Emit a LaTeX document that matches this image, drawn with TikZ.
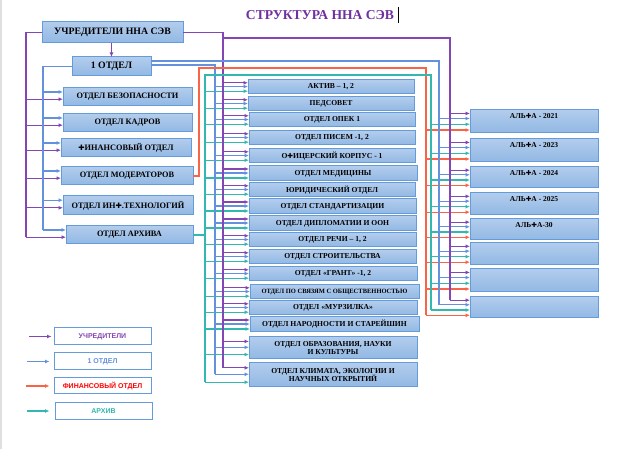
\documentclass[tikz,border=0pt]{standalone}
\usepackage{fontspec}
\setmainfont{Liberation Serif}
\newfontfamily\dv[Scale=0.9]{DejaVu Sans}
\newfontfamily\lsans{Liberation Sans}
\usetikzlibrary{calc,arrows.meta}
\definecolor{pur}{RGB}{132,70,180}
\definecolor{blu}{RGB}{100,145,222}
\definecolor{rdd}{RGB}{250,100,70}
\definecolor{tea}{RGB}{50,184,174}
\definecolor{tpur}{RGB}{112,48,160}
\definecolor{bbord}{RGB}{100,155,218}
\definecolor{btop}{RGB}{178,204,236}
\definecolor{bbot}{RGB}{145,184,228}
\newcommand\Fx{{\dv ✚}}
\newcommand\bx[7]{\node[#1,minimum width={(#5-#3)*1pt},minimum height={(#6-#4)*1pt}] (#2) at ({(#3+#5)/2},{(#4+#6)/2}) {#7};}
\newcommand\feed[5]{\path ($(#3.north west)!#4!(#3.south west)$) coordinate (#5);
  \draw[#1,-{Latex[length=4.5pt,width=4pt]}] (#2 |- #5) -- (#5);}
\tikzset{
  box/.style={draw=bbord,line width=1pt,top color=btop,bottom color=bbot,inner sep=1pt,outer sep=0pt,text=black,align=center},
  lbox/.style={box,font=\bfseries\fontsize{8.3}{9}\selectfont},
  mbox/.style={box,font=\bfseries\fontsize{7.6}{8.8}\selectfont},
  rbox/.style={box},
  rlab/.style={anchor=north,inner sep=3pt,font=\bfseries\fontsize{7.5}{8}\selectfont},
  legbox/.style={draw=bbord,line width=1pt,fill=white,inner sep=1pt,font=\lsans\bfseries\fontsize{7}{8}\selectfont},
  lnk/.style={line width=1.1pt},
  pur/.style={lnk,draw=pur,color=pur},
  blu/.style={lnk,draw=blu,color=blu},
  rdd/.style={lnk,draw=rdd,color=rdd},
  tea/.style={lnk,draw=tea,color=tea},
  tip/.style={-{Latex[length=4.5pt,width=4pt]}}
}
\begin{document}
\begin{tikzpicture}[x=1pt,y=-1pt]
\useasboundingbox[fill=white] (0,0) rectangle (638,449);
\draw[gray!25,line width=1.5pt] (1,0) -- (1,449);
% title
\node[font=\bfseries\fontsize{13.6}{15}\selectfont,text=tpur] (title) at (320,15) {СТРУКТУРА ННА СЭВ};
\draw[black,line width=0.6pt] (title.east) ++(1,-8) coordinate (c1) -- ++(0,16) coordinate (c2);
% trunk coordinates
\coordinate (xPL) at (26,0);
\coordinate (xBL) at (43,0);
\coordinate (xRL) at (199,0);
\coordinate (xTM) at (205,0);
\coordinate (xBM) at (215,0);
\coordinate (xPM) at (223,0);
\coordinate (xRR) at (426,0);
\coordinate (xTR) at (431,0);
\coordinate (xBR) at (439,0);
\coordinate (xPR) at (450,0);
\coordinate (yP2) at (0,38);
\coordinate (yB1) at (0,61);
\coordinate (yB2) at (0,65);
\coordinate (yR) at (0,68);
\coordinate (yT) at (0,75);
% left column
\bx{lbox,font=\bfseries\fontsize{9.8}{11}\selectfont}{uchr}{42}{22}{183}{43}{УЧРЕДИТЕЛИ ННА СЭВ}
\bx{lbox,font=\bfseries\fontsize{9.8}{11}\selectfont}{otd1}{72}{57}{151}{76}{1 ОТДЕЛ}
\bx{lbox}{bez}{63}{88}{192}{106}{ОТДЕЛ БЕЗОПАСНОСТИ}
\bx{lbox}{kadr}{63}{114}{192}{132}{ОТДЕЛ КАДРОВ}
\bx{lbox}{fin}{61}{139}{191}{157}{\Fx ИНАНСОВЫЙ ОТДЕЛ}
\bx{lbox}{mod}{61}{167}{193}{185}{ОТДЕЛ МОДЕРАТОРОВ}
\bx{lbox}{inf}{63}{196}{193}{215}{ОТДЕЛ ИН\Fx.ТЕХНОЛОГИЙ}
\bx{lbox}{arh}{66}{226}{193}{244}{ОТДЕЛ АРХИВА}
% middle column
\bx{mbox}{m1}{248}{80}{414}{94}{АКТИВ – 1, 2}
\bx{mbox}{m2}{248}{97}{414}{111}{ПЕДСОВЕТ}
\bx{mbox}{m3}{249}{113}{415}{127}{ОТДЕЛ ОПЕК 1}
\bx{mbox}{m4}{249}{131}{415}{145}{ОТДЕЛ ПИСЕМ -1, 2}
\bx{mbox}{m5}{249}{149}{415}{163}{О\Fx ИЦЕРСКИЙ КОРПУС - 1}
\bx{mbox}{m6}{249}{166}{417}{181}{ОТДЕЛ МЕДИЦИНЫ}
\bx{mbox}{m7}{249}{183}{415}{197}{ЮРИДИЧЕСКИЙ ОТДЕЛ}
\bx{mbox}{m8}{249}{199}{416}{214}{ОТДЕЛ СТАНДАРТИЗАЦИИ}
\bx{mbox}{m9}{249}{216}{416}{231}{ОТДЕЛ ДИПЛОМАТИИ И ООН}
\bx{mbox}{m10}{249}{233}{416}{247}{ОТДЕЛ РЕЧИ – 1, 2}
\bx{mbox}{m11}{249}{250}{416}{264}{ОТДЕЛ СТРОИТЕЛЬСТВА}
\bx{mbox}{m12}{249}{267}{417}{281}{ОТДЕЛ «ГРАНТ» -1, 2}
\bx{mbox,font=\bfseries\fontsize{6.5}{7}\selectfont}{m13}{250}{285}{419}{299}{ОТДЕЛ ПО СВЯЗЯМ С ОБЩЕСТВЕННОСТЬЮ}
\bx{mbox}{m14}{249}{301}{417}{315}{ОТДЕЛ «МУРЗИЛКА»}
\bx{mbox}{m15}{250}{317}{419}{332}{ОТДЕЛ НАРОДНОСТИ И СТАРЕЙШИН}
\bx{mbox}{m16}{249}{337}{417}{359}{ОТДЕЛ ОБРАЗОВАНИЯ, НАУКИ\\И КУЛЬТУРЫ}
\bx{mbox}{m17}{249}{363}{417}{387}{ОТДЕЛ КЛИМАТА, ЭКОЛОГИИ И\\НАУЧНЫХ ОТКРЫТИЙ}
% right column
\bx{rbox,label={[rlab]north:АЛЬ\Fx А - 2021}}{r1}{470}{110}{598}{133}{}
\bx{rbox,label={[rlab]north:АЛЬ\Fx А - 2023}}{r2}{470}{139}{598}{162}{}
\bx{rbox,label={[rlab]north:АЛЬ\Fx А - 2024}}{r3}{470}{167}{598}{188}{}
\bx{rbox,label={[rlab]north:АЛЬ\Fx А - 2025}}{r4}{470}{193}{598}{215}{}
\bx{rbox,label={[rlab]north:АЛЬ\Fx А-30}}{r5}{470}{219}{598}{240}{}
\bx{rbox}{r6}{470}{243}{598}{265}{}
\bx{rbox}{r7}{470}{269}{598}{292}{}
\bx{rbox}{r8}{470}{297}{598}{318}{}
% feeds to left column
\foreach \n in {bez,kadr,fin,mod,inf,arh}{
  \feed{blu}{xBL}{\n}{0.22}{bl\n}
  \feed{pur}{xPL}{\n}{0.62}{pl\n}
}
% feeds to middle column
\foreach \n in {m1,m2,m3,m4,m5,m6,m7,m8,m9,m10,m11,m12,m13,m14,m15,m16,m17}{
  \feed{tea}{xTM}{\n}{0.8}{t\n}
  \feed{blu}{xBM}{\n}{0.47}{b\n}
  \feed{pur}{xPM}{\n}{0.2}{p\n}
}
% feeds to right column
\foreach \n in {r1,r2,r3,r4,r5,r6,r7,r8}{
  \feed{rdd}{xRR}{\n}{0.87}{r\n}
  \feed{tea}{xTR}{\n}{0.62}{t\n}
  \feed{blu}{xBR}{\n}{0.37}{b\n}
  \feed{pur}{xPR}{\n}{0.15}{p\n}
}
% trunks
\draw[pur] (uchr.west) -| (xPL |- plarh);
\draw[pur,tip] (uchr.south -| otd1.north) -- (otd1.north);
\draw[pur] (uchr.east) -| (xPM |- pm17);
\draw[pur] (xPM |- yP2) -| (xPR |- pr8);
\draw[blu] (otd1.west) -| (xBL |- blarh);
\draw[blu] (otd1.east |- yB1) -| (xBR |- br8);
\draw[blu] (otd1.east |- yB2) -| (xBM |- bm17);
\draw[rdd] (mod.east) -| (xRL |- yR) -| (xRR |- rr8);
\draw[tea] (arh.east) -- (xTM |- arh.east);
\draw[tea] (xTM |- tm17) -- (xTM |- yT) -| (xTR |- tr8);
% legend
\bx{legbox,text=pur}{lg1}{54}{328}{151}{345}{УЧРЕДИТЕЛИ}
\bx{legbox,text=blu}{lg2}{54}{353}{151}{370}{1 ОТДЕЛ}
\bx{legbox,text=red}{lg3}{54}{378}{151}{394}{ФИНАНСОВЫЙ ОТДЕЛ}
\bx{legbox,text=tea}{lg4}{55}{403}{152}{419}{АРХИВ}
\coordinate (la1) at (29,0);
\coordinate (la2) at (27,0);
\coordinate (la3) at (26,0);
\coordinate (la4) at (27,0);
\draw[pur,tip] (la1 |- lg1.west) -- ($(lg1.west)+(-2,0)$) coordinate (le1);
\draw[blu,tip] (la2 |- lg2.west) -- ($(lg2.west)+(-4,0)$) coordinate (le2);
\draw[rdd,tip] (la3 |- lg3.west) -- ($(lg3.west)+(-4,0)$) coordinate (le3);
\draw[tea,tip] (la4 |- lg4.west) -- ($(lg4.west)+(-5,0)$) coordinate (le4);
\end{tikzpicture}
\end{document}
